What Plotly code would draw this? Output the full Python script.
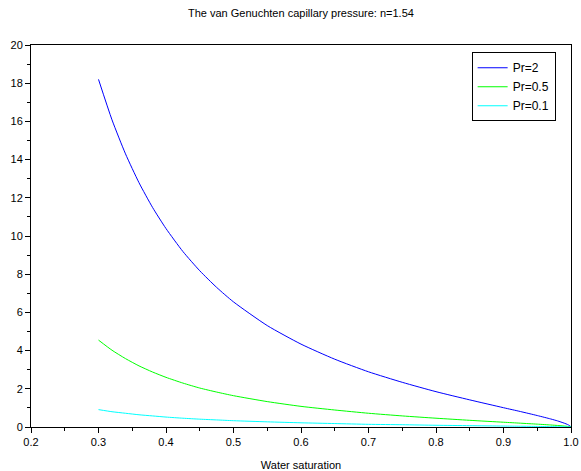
import plotly.graph_objects as go

# Water saturation
sw = [0.30, 0.32, 0.34, 0.36, 0.38, 0.40, 0.425, 0.45, 0.475, 0.50, 0.55, 0.60,
      0.65, 0.70, 0.75, 0.80, 0.85, 0.90, 0.925, 0.95, 0.97, 0.98, 0.99, 0.995,
      0.999, 1.0]

pc_pr2 = [18.20, 16.08, 14.30, 12.79, 11.50, 10.39, 9.19, 8.18, 7.31, 6.55, 5.31,
          4.34, 3.55, 2.89, 2.34, 1.85, 1.42, 1.01, 0.81, 0.60, 0.42, 0.32, 0.20,
          0.13, 0.045, 0.0]
pc_pr05 = [4.55, 4.02, 3.58, 3.20, 2.88, 2.60, 2.30, 2.04, 1.83, 1.64, 1.33, 1.08,
           0.89, 0.72, 0.58, 0.46, 0.35, 0.25, 0.20, 0.15, 0.105, 0.08, 0.05,
           0.032, 0.011, 0.0]
pc_pr01 = [0.91, 0.80, 0.72, 0.64, 0.58, 0.52, 0.46, 0.41, 0.37, 0.33, 0.27, 0.22,
           0.18, 0.14, 0.12, 0.09, 0.07, 0.05, 0.04, 0.03, 0.02, 0.016, 0.01,
           0.006, 0.002, 0.0]

series_names = ["Pr=2", "Pr=0.5", "Pr=0.1"]
series_colors = ["#0000ff", "#00ff00", "#00ffff"]

FONT = "Liberation Sans, Arial, sans-serif"

fig = go.Figure()
for name, vals, col in zip(series_names, [pc_pr2, pc_pr05, pc_pr01], series_colors):
    fig.add_trace(go.Scatter(x=sw, y=vals, mode="lines", name=name,
                             line=dict(color=col, width=1, shape="spline", smoothing=0.6)))

axis_common = dict(
    showline=True, linecolor="black", linewidth=1, mirror=True,
    ticks="outside", ticklen=5, tickcolor="black", tickwidth=1,
    showgrid=False, zeroline=False, automargin=False,
    tickfont=dict(family=FONT, size=11, color="black"),
)

fig.update_layout(
    width=581, height=471,
    margin=dict(l=31, r=10, t=45, b=44),
    paper_bgcolor="white", plot_bgcolor="white",
    font=dict(family=FONT, size=11, color="black"),
    title=dict(text="The van Genuchten capillary pressure: n=1.54",
               x=0.518, xanchor="center", xref="container",
               y=0.972, yanchor="middle", yref="container",
               font=dict(family=FONT, size=11, color="black")),
    xaxis=dict(range=[0.2, 1.0], dtick=0.1, tickformat=".1f",
               minor=dict(dtick=0.05, ticks="outside", ticklen=3, tickcolor="black"),
               title=dict(text="Water saturation", standoff=14,
                          font=dict(family=FONT, size=11, color="black")),
               **axis_common),
    yaxis=dict(range=[0, 20], dtick=2,
               minor=dict(dtick=1, ticks="outside", ticklen=3, tickcolor="black"),
               **axis_common),
    legend=dict(x=0.816, y=0.981, xanchor="left", yanchor="top",
                bgcolor="white", bordercolor="black", borderwidth=1,
                font=dict(family=FONT, size=12, color="black"),
                itemwidth=30, tracegroupgap=0),
    showlegend=True,
)

fig.write_html("out.html")
